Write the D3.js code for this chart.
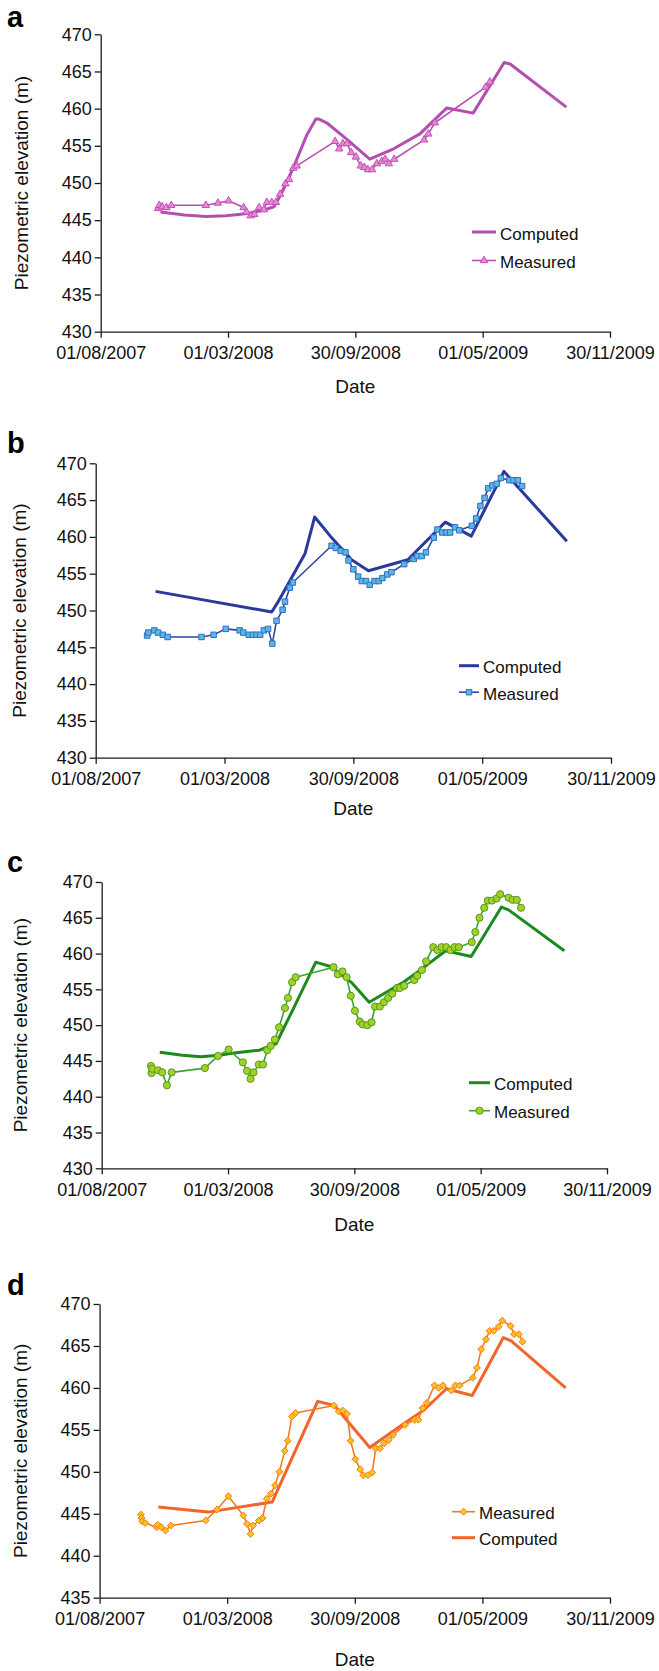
<!DOCTYPE html>
<html>
<head>
<meta charset="utf-8">
<script src="https://cdn.jsdelivr.net/npm/d3@7"></script>
<style>
body { margin: 0; background: #fff; }
svg { display: block; font-family: "Liberation Sans", Arial, Helvetica, sans-serif; }
</style>
</head>
<body>
<svg width="659" height="1671"></svg>
<script>
// tick labels shared by the four panels
var xTickLabels = ["01/08/2007", "01/03/2008", "30/09/2008", "01/05/2009", "30/11/2009"];
var yTicksABC = [430, 435, 440, 445, 450, 455, 460, 465, 470];
var yTicksD = [435, 440, 445, 450, 455, 460, 465, 470];

// panel a
var aComputed = [
    ["2007-11-09", 446.1], ["2007-12-19", 445.7], ["2008-01-24", 445.5], ["2008-02-27", 445.6],
    ["2008-04-03", 445.9], ["2008-04-27", 446.3], ["2008-05-17", 446.8], ["2008-06-01", 449.0],
    ["2008-06-19", 452.2], ["2008-07-11", 456.5], ["2008-07-26", 458.6], ["2008-07-31", 458.6],
    ["2008-08-13", 458.1], ["2008-09-14", 456.0], ["2008-10-24", 453.2], ["2008-12-03", 454.6],
    ["2009-01-16", 456.6], ["2009-03-02", 460.1], ["2009-04-15", 459.4], ["2009-06-06", 466.2],
    ["2009-06-16", 466.0], ["2009-09-18", 460.2]
];
var aMeasured = [
    ["2007-11-05", 446.6], ["2007-11-07", 447.0], ["2007-11-12", 446.8], ["2007-11-19", 446.7],
    ["2007-11-27", 447.0], ["2008-01-24", 447.0], ["2008-02-13", 447.3], ["2008-03-02", 447.6],
    ["2008-03-27", 446.7], ["2008-04-01", 446.1], ["2008-04-08", 445.6], ["2008-04-14", 445.8],
    ["2008-04-22", 446.7], ["2008-04-30", 446.4], ["2008-05-05", 447.4], ["2008-05-13", 447.4],
    ["2008-05-20", 447.4], ["2008-05-27", 448.5], ["2008-06-05", 449.9], ["2008-06-11", 450.5],
    ["2008-06-18", 452.0], ["2008-06-24", 452.3], ["2008-08-27", 455.6], ["2008-09-03", 454.6],
    ["2008-09-09", 455.3], ["2008-09-16", 455.3], ["2008-09-23", 454.1], ["2008-10-01", 453.5],
    ["2008-10-09", 452.3], ["2008-10-15", 452.1], ["2008-10-21", 451.8], ["2008-10-28", 451.8],
    ["2008-11-05", 452.6], ["2008-11-13", 452.9], ["2008-11-19", 453.2], ["2008-11-25", 452.6],
    ["2008-12-04", 453.2], ["2009-01-23", 455.8], ["2009-01-30", 456.6], ["2009-02-10", 458.1],
    ["2009-05-06", 462.9], ["2009-05-13", 463.6]
];

// panel b
var bComputed = [
    ["2007-11-08", 452.6], ["2008-05-18", 449.8], ["2008-05-28", 451.1], ["2008-07-12", 457.7],
    ["2008-07-28", 462.7], ["2008-08-23", 460.1], ["2008-09-27", 456.9], ["2008-10-25", 455.4],
    ["2008-12-29", 456.9], ["2009-03-01", 462.0], ["2009-04-13", 460.1], ["2009-06-06", 468.9],
    ["2009-09-18", 459.4]
];
var bMeasured = [
    ["2007-10-25", 446.6], ["2007-10-27", 447.0], ["2007-11-06", 447.3], ["2007-11-12", 447.0],
    ["2007-11-20", 446.7], ["2007-11-28", 446.4], ["2008-01-23", 446.4], ["2008-02-12", 446.7],
    ["2008-03-03", 447.5], ["2008-03-26", 447.3], ["2008-04-01", 447.0], ["2008-04-10", 446.7],
    ["2008-04-17", 446.7], ["2008-04-23", 446.7], ["2008-04-29", 446.7], ["2008-05-05", 447.3],
    ["2008-05-12", 447.5], ["2008-05-19", 445.5], ["2008-05-26", 448.6], ["2008-06-05", 450.1],
    ["2008-06-09", 451.2], ["2008-06-17", 453.1], ["2008-06-22", 453.8], ["2008-08-25", 458.8],
    ["2008-09-01", 458.5], ["2008-09-09", 458.1], ["2008-09-17", 457.9], ["2008-09-22", 456.8],
    ["2008-09-30", 455.6], ["2008-10-08", 454.6], ["2008-10-14", 454.0], ["2008-10-21", 454.0],
    ["2008-10-27", 453.5], ["2008-11-04", 454.0], ["2008-11-11", 454.0], ["2008-11-17", 454.4],
    ["2008-11-25", 454.9], ["2008-12-02", 455.2], ["2008-12-23", 456.3], ["2009-01-08", 457.0],
    ["2009-01-14", 457.4], ["2009-01-21", 457.4], ["2009-01-28", 457.9], ["2009-02-10", 459.9],
    ["2009-02-16", 461.0], ["2009-02-24", 460.6], ["2009-03-03", 460.6], ["2009-03-09", 460.6],
    ["2009-03-17", 461.3], ["2009-03-24", 460.9], ["2009-04-14", 461.5], ["2009-04-21", 462.5],
    ["2009-04-28", 464.2], ["2009-05-05", 465.3], ["2009-05-11", 466.6], ["2009-05-18", 467.0],
    ["2009-05-25", 467.2], ["2009-06-01", 468.0], ["2009-06-15", 467.7], ["2009-06-22", 467.7],
    ["2009-06-29", 467.7], ["2009-07-06", 466.9]
];

// panel c
var cComputed = [
    ["2007-11-07", 446.2], ["2007-12-15", 445.8], ["2008-01-15", 445.6], ["2008-02-15", 445.8],
    ["2008-03-11", 446.1], ["2008-04-23", 446.5], ["2008-05-21", 447.4], ["2008-06-18", 452.1],
    ["2008-07-27", 458.8], ["2008-07-31", 458.7], ["2008-08-21", 458.2], ["2008-09-26", 455.9],
    ["2008-10-25", 453.2], ["2008-12-20", 455.9], ["2009-01-24", 458.0], ["2009-03-03", 460.4],
    ["2009-04-15", 459.6], ["2009-06-05", 466.5], ["2009-06-17", 466.1], ["2009-09-19", 460.4]
];
var cMeasured = [
    ["2007-10-23", 444.3], ["2007-10-24", 443.3], ["2007-10-25", 443.9], ["2007-11-04", 443.7],
    ["2007-11-11", 443.4], ["2007-11-19", 441.6], ["2007-11-27", 443.4], ["2008-01-22", 444.0],
    ["2008-02-13", 445.7], ["2008-03-02", 446.6], ["2008-03-26", 444.8], ["2008-04-02", 443.6],
    ["2008-04-08", 442.5], ["2008-04-13", 443.4], ["2008-04-22", 444.5], ["2008-04-29", 444.5],
    ["2008-05-06", 446.5], ["2008-05-12", 447.1], ["2008-05-19", 448.0], ["2008-05-26", 449.7],
    ["2008-06-05", 452.4], ["2008-06-10", 453.8], ["2008-06-17", 456.0], ["2008-06-23", 456.7],
    ["2008-08-26", 458.1], ["2008-09-02", 457.1], ["2008-09-10", 457.5], ["2008-09-17", 456.7],
    ["2008-09-24", 454.1], ["2008-10-01", 452.0], ["2008-10-09", 450.5], ["2008-10-14", 450.1],
    ["2008-10-22", 450.0], ["2008-10-29", 450.4], ["2008-11-04", 452.6], ["2008-11-12", 452.6],
    ["2008-11-19", 453.2], ["2008-11-26", 453.8], ["2008-12-03", 454.4], ["2008-12-11", 455.2],
    ["2008-12-16", 455.2], ["2008-12-23", 455.5], ["2009-01-09", 456.3], ["2009-01-14", 456.9],
    ["2009-01-22", 457.7], ["2009-01-29", 458.9], ["2009-02-10", 460.9], ["2009-02-17", 460.5],
    ["2009-02-24", 460.9], ["2009-03-04", 460.9], ["2009-03-11", 460.5], ["2009-03-18", 460.9],
    ["2009-03-25", 460.9], ["2009-04-16", 461.6], ["2009-04-22", 463.0], ["2009-04-29", 465.0],
    ["2009-05-07", 466.4], ["2009-05-13", 467.4], ["2009-05-20", 467.4], ["2009-05-28", 467.7],
    ["2009-06-03", 468.3], ["2009-06-17", 467.8], ["2009-06-24", 467.5], ["2009-07-01", 467.5],
    ["2009-07-08", 466.4]
];

// panel d
var dComputed = [
    ["2007-11-07", 445.8], ["2008-01-29", 445.2], ["2008-05-15", 446.4], ["2008-07-30", 458.4],
    ["2008-08-27", 457.9], ["2008-10-25", 452.9], ["2008-12-20", 455.7], ["2009-01-24", 457.4],
    ["2009-03-02", 459.9], ["2009-04-14", 459.1], ["2009-06-05", 466.0], ["2009-06-18", 465.6],
    ["2009-09-17", 460.0]
];
var dMeasured = [
    ["2007-10-09", 444.9], ["2007-10-10", 444.5], ["2007-10-11", 444.1], ["2007-10-16", 443.9],
    ["2007-11-04", 443.4], ["2007-11-06", 443.7], ["2007-11-12", 443.4], ["2007-11-19", 443.0],
    ["2007-11-28", 443.6], ["2008-01-25", 444.2], ["2008-02-13", 445.5], ["2008-03-03", 447.1],
    ["2008-03-28", 444.8], ["2008-04-03", 443.8], ["2008-04-09", 442.6], ["2008-04-13", 443.6],
    ["2008-04-23", 444.2], ["2008-04-29", 444.5], ["2008-05-06", 446.8], ["2008-05-13", 447.4],
    ["2008-05-20", 448.4], ["2008-05-27", 450.0], ["2008-06-05", 452.5], ["2008-06-10", 453.7],
    ["2008-06-17", 456.6], ["2008-06-23", 457.0], ["2008-08-26", 457.9], ["2008-09-03", 457.2],
    ["2008-09-10", 457.3], ["2008-09-17", 456.9], ["2008-09-23", 453.7], ["2008-10-01", 451.5],
    ["2008-10-09", 450.3], ["2008-10-14", 449.6], ["2008-10-22", 449.6], ["2008-10-29", 449.9],
    ["2008-11-04", 452.8], ["2008-11-11", 452.8], ["2008-11-18", 453.4], ["2008-11-26", 453.8],
    ["2008-12-03", 454.4], ["2008-12-23", 455.6], ["2009-01-08", 456.2], ["2009-01-14", 456.2],
    ["2009-01-21", 457.6], ["2009-01-28", 458.2], ["2009-02-10", 460.3], ["2009-02-17", 460.0],
    ["2009-02-24", 460.3], ["2009-03-10", 459.7], ["2009-03-17", 460.3], ["2009-03-24", 460.3],
    ["2009-04-15", 461.2], ["2009-04-22", 462.4], ["2009-04-29", 464.6], ["2009-05-07", 465.8],
    ["2009-05-13", 466.8], ["2009-05-20", 466.8], ["2009-05-28", 467.3], ["2009-06-03", 468.0],
    ["2009-06-17", 467.4], ["2009-06-23", 466.4], ["2009-07-01", 466.4], ["2009-07-07", 465.5]
];

var svg = d3.select("svg");
var parseDate = d3.timeParse("%Y-%m-%d");
var parseTick = d3.timeParse("%d/%m/%Y");
var xTicks = xTickLabels.map(parseTick);

function drawPanel(p) {
    var g = svg.append("g").attr("class", "panel");

    var x = d3.scaleTime()
        .domain([xTicks[0], xTicks[xTicks.length - 1]])
        .range([p.left, p.right]);
    var y = d3.scaleLinear()
        .domain([p.yTicks[0], p.yTicks[p.yTicks.length - 1]])
        .range([p.bottom, p.top]);

    var xa = g.append("g")
        .attr("transform", "translate(0," + p.bottom + ")")
        .call(d3.axisBottom(x)
            .tickValues(xTicks)
            .tickFormat(function(d, i) { return xTickLabels[i]; })
            .tickSize(6).tickSizeOuter(0).tickPadding(9));
    var ya = g.append("g")
        .attr("transform", "translate(" + p.left + ",0)")
        .call(d3.axisLeft(y)
            .tickValues(p.yTicks)
            .tickSize(6).tickSizeOuter(0).tickPadding(3));
    [xa, ya].forEach(function(a) {
        a.selectAll("path, line").attr("stroke", "#1a1a1a").attr("stroke-width", 1.3);
        a.selectAll("text").attr("font-size", "18px").attr("fill", "#111")
            .attr("font-family", "'Liberation Sans', Arial, Helvetica, sans-serif");
    });

    // panel letter and axis titles
    g.append("text").text(p.letter)
        .attr("x", 7).attr("y", p.letterY)
        .attr("font-size", "29px").attr("font-weight", "bold").attr("fill", "#000");
    g.append("text").text("Date")
        .attr("x", (p.left + p.right) / 2).attr("y", p.dateY)
        .attr("text-anchor", "middle").attr("font-size", "19px").attr("fill", "#111");
    g.append("text").text("Piezometric elevation (m)")
        .attr("transform", "translate(" + p.titleX + "," + (p.top + p.bottom) / 2 + ") rotate(-90)")
        .attr("text-anchor", "middle").attr("font-size", "19px").attr("fill", "#111");

    var line = d3.line()
        .x(function(d) { return x(parseDate(d[0])); })
        .y(function(d) { return y(d[1]); });

    var sym = d3.symbol().type(p.symbol).size(p.symbolSize);

    // computed (thick) line
    g.append("path").datum(p.computed)
        .attr("d", line)
        .attr("fill", "none").attr("stroke", p.compColor)
        .attr("stroke-width", 3).attr("stroke-linejoin", "round");
    // measured line + markers
    g.append("path").datum(p.measured)
        .attr("d", line)
        .attr("fill", "none").attr("stroke", p.measColor)
        .attr("stroke-width", 1.6).attr("stroke-linejoin", "round");
    g.append("g").selectAll("path").data(p.measured).join("path")
        .attr("transform", function(d) { return "translate(" + x(parseDate(d[0])) + "," + y(d[1]) + ")"; })
        .attr("d", sym)
        .attr("fill", p.markFill).attr("stroke", p.markStroke).attr("stroke-width", 1);

    // legend
    var lg = g.append("g").attr("class", "legend");
    p.legend.forEach(function(item, i) {
        var ly = p.legY + i * p.legStep;
        var e = lg.append("g");
        if (item === "Computed") {
            e.append("line").attr("x1", p.legX).attr("x2", p.legX + p.legLen)
                .attr("y1", ly).attr("y2", ly)
                .attr("stroke", p.compColor).attr("stroke-width", 3);
        } else {
            e.append("line").attr("x1", p.legX).attr("x2", p.legX + p.legLen)
                .attr("y1", ly).attr("y2", ly)
                .attr("stroke", p.measColor).attr("stroke-width", 1.6);
            e.append("path").attr("d", sym)
                .attr("transform", "translate(" + (p.legX + p.legLen / 2) + "," + ly + ")")
                .attr("fill", p.markFill).attr("stroke", p.markStroke).attr("stroke-width", 1);
        }
        e.append("text").text(item)
            .attr("x", p.legX + p.legLen + 4).attr("y", ly + 7.5)
            .attr("font-size", "17px").attr("fill", "#111");
    });
}

drawPanel({
    letter: "a", letterY: 27, left: 100.7, right: 610, top: 34.3, bottom: 331.7,
    yTicks: yTicksABC, dateY: 393, titleX: 28,
    computed: aComputed, measured: aMeasured,
    compColor: "#b44fb2", measColor: "#b94fb6", markFill: "#e98ad0", markStroke: "#c04fba",
    symbol: d3.symbolTriangle, symbolSize: 24,
    legend: ["Computed", "Measured"], legX: 472, legY: 232, legStep: 28.5, legLen: 24
});
drawPanel({
    letter: "b", letterY: 453, left: 95.7, right: 611, top: 463.3, bottom: 757.7,
    yTicks: yTicksABC, dateY: 815, titleX: 26,
    computed: bComputed, measured: bMeasured,
    compColor: "#2b3a98", measColor: "#2f45a6", markFill: "#5ab6e8", markStroke: "#2f70c0",
    symbol: d3.symbolSquare, symbolSize: 30,
    legend: ["Computed", "Measured"], legX: 459, legY: 665.7, legStep: 26.5, legLen: 20
});
drawPanel({
    letter: "c", letterY: 872, left: 101.7, right: 607, top: 882, bottom: 1168.3,
    yTicks: yTicksABC, dateY: 1231, titleX: 27,
    computed: cComputed, measured: cMeasured,
    compColor: "#1d8a1d", measColor: "#3aa534", markFill: "#a6cf28", markStroke: "#4f9c1c",
    symbol: d3.symbolCircle, symbolSize: 40,
    legend: ["Computed", "Measured"], legX: 469, legY: 1082.7, legStep: 28, legLen: 21
});
drawPanel({
    letter: "d", letterY: 1295, left: 99.6, right: 610, top: 1304, bottom: 1597.7,
    yTicks: yTicksD, dateY: 1666, titleX: 27,
    computed: dComputed, measured: dMeasured,
    compColor: "#f2652a", measColor: "#f47a22", markFill: "#ffc21a", markStroke: "#f47a22",
    symbol: d3.symbolDiamond2, symbolSize: 30,
    legend: ["Measured", "Computed"], legX: 452, legY: 1511.7, legStep: 26, legLen: 23
});
</script>
</body>
</html>
